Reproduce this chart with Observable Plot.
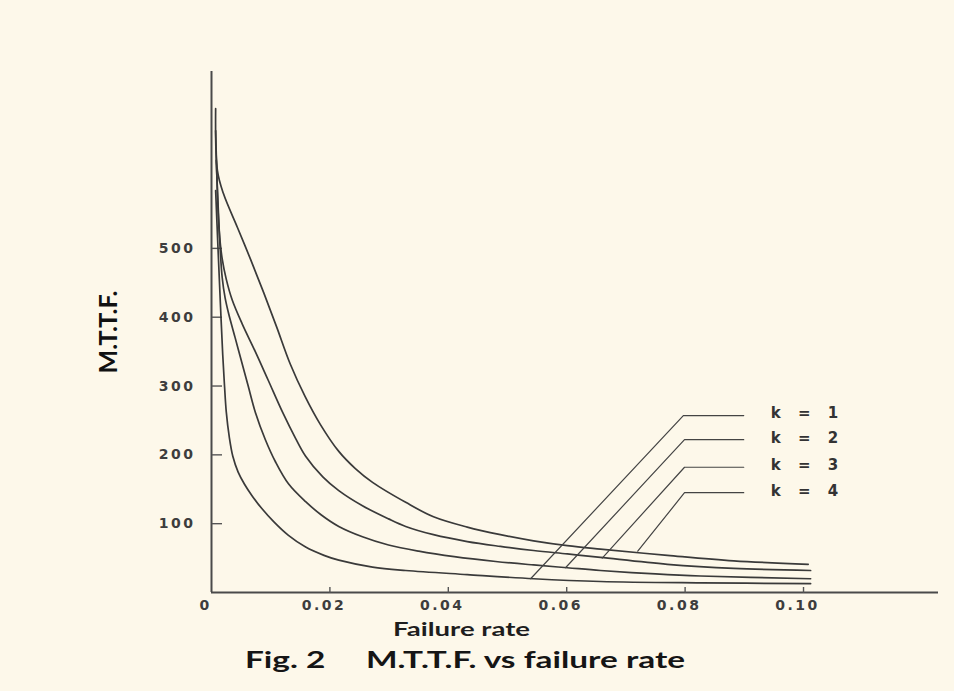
<!DOCTYPE html>
<html>
<head>
<meta charset="utf-8">
<script src="https://cdn.jsdelivr.net/npm/d3@7"></script>
<script src="https://cdn.jsdelivr.net/npm/@observablehq/plot@0.6"></script>
<style>
  html, body { margin: 0; padding: 0; background: #fdf8ea; }
  #wrap { position: relative; width: 954px; height: 691px; background: #fdf8ea; overflow: hidden; }
  #wrap svg { position: absolute; left: 0; top: 0; }
  #xlabel { position: absolute; left: 393px; top: 617px; font-family: Lato, "Open Sans", sans-serif; font-weight: bold; font-size: 19px; color: #1e1e1e; white-space: pre; transform-origin: 0 0; }
  #caption { position: absolute; left: 245px; top: 645px; font-family: Lato, "Open Sans", sans-serif; font-weight: bold; font-size: 23px; color: #151515; white-space: pre; transform-origin: 0 0; }
  [aria-label$="tick label"] text { letter-spacing: 2.5px; }
</style>
</head>
<body>
<div id="wrap">
  <div id="xlabel">Failure rate</div>
  <div id="caption">Fig. 2     M.T.T.F. vs failure rate</div>
</div>
<script>
// ---- data ----
const seriesNames = ["k = 1", "k = 2", "k = 3", "k = 4"];

const rateK1 = [0.0007, 0.0011, 0.0015, 0.0019, 0.0022, 0.0025, 0.0030, 0.0036, 0.0045, 0.0056, 0.0069, 0.0085, 0.0105, 0.0130, 0.0159, 0.0190, 0.0215, 0.0272, 0.0328, 0.0432, 0.0544, 0.0657, 0.0826, 0.1012];
const mttfK1 = [584, 500, 420, 345, 300, 262, 226, 198, 175, 157, 140, 122, 103, 83, 66, 54, 47, 37, 32, 26, 20, 16, 14, 13];

const rateK2 = [0.0008, 0.0011, 0.0014, 0.0018, 0.0023, 0.0029, 0.0040, 0.0051, 0.0062, 0.0074, 0.0091, 0.0108, 0.0130, 0.0159, 0.0185, 0.0215, 0.0255, 0.0299, 0.0350, 0.0410, 0.0480, 0.0544, 0.0601, 0.0657, 0.0750, 0.0826, 0.1012];
const mttfK2 = [628, 565, 510, 458, 428, 405, 370, 335, 300, 262, 222, 190, 158, 132, 113, 96, 81, 69, 60, 52, 45, 40, 36, 32, 27, 24, 20];

const rateK3 = [0.0007, 0.0010, 0.0013, 0.0018, 0.0025, 0.0035, 0.0052, 0.0074, 0.0096, 0.0120, 0.0142, 0.0159, 0.0188, 0.0215, 0.0255, 0.0299, 0.0328, 0.0375, 0.0432, 0.0488, 0.0544, 0.0601, 0.0657, 0.0770, 0.0882, 0.1012];
const mttfK3 = [671, 580, 525, 485, 455, 425, 390, 350, 308, 262, 224, 198, 168, 148, 126, 107, 96, 84, 74, 67, 61, 56, 51, 41, 35, 32];

const rateK4 = [0.0007, 0.0010, 0.0020, 0.0044, 0.0066, 0.0088, 0.0110, 0.0133, 0.0158, 0.0184, 0.0215, 0.0243, 0.0272, 0.0328, 0.0375, 0.0432, 0.0488, 0.0544, 0.0601, 0.0657, 0.0770, 0.0882, 0.1008];
const mttfK4 = [703, 613, 580, 530, 484, 436, 386, 332, 285, 244, 205, 180, 160, 131, 110, 95, 84, 75, 68, 63, 54, 46, 41];

// leader lines of the key: [point on curve, bend, end of horizontal]
const leaderRate = [[0.0539, 0.0797, 0.0899], [0.0598, 0.0799, 0.0899], [0.0660, 0.0799, 0.0899], [0.0720, 0.0799, 0.0899]];
const leaderMttf = [[20, 257, 257], [36, 222, 222], [50, 182, 182], [60, 145, 145]];

const yTicks = [100, 200, 300, 400, 500];
const xTicks = [0, 0.02, 0.04, 0.06, 0.08, 0.10];
const xTickLabels = ["0", "0.02", "0.04", "0.06", "0.08", "0.10"];
const yTitle = "M.T.T.F.";

// ---- build tables ----
const rates = [rateK1, rateK2, rateK3, rateK4];
const mttfs = [mttfK1, mttfK2, mttfK3, mttfK4];
const curveRows = seriesNames.flatMap((k, s) => rates[s].map((r, i) => ({k, rate: r, mttf: mttfs[s][i]})));
const leaderRows = seriesNames.flatMap((k, s) => leaderRate[s].map((r, i) => ({k, rate: r, mttf: leaderMttf[s][i]})));
const keyRows = seriesNames.map((k, s) => ({k, rate: leaderRate[s][2], mttf: leaderMttf[s][2]}));
const xLabelMap = new Map(xTicks.map((t, i) => [t, xTickLabels[i]]));

const ink = "#3a3a3a";
const tickFont = {fontFamily: "DejaVu Sans", fontWeight: "bold", fontSize: 14, fill: "#3d3d3d"};

const chart = Plot.plot({
  width: 954,
  height: 612,
  marginLeft: 211,
  marginRight: 16,
  marginTop: 71,
  marginBottom: 20,
  style: {background: "transparent", overflow: "visible"},
  x: {domain: [0, 0.1228]},
  y: {domain: [0, 757]},
  marks: [
    // axis lines
    Plot.ruleX([0], {stroke: "#4a4a4a", strokeWidth: 2}),
    Plot.ruleY([0], {stroke: "#4a4a4a", strokeWidth: 2}),
    // y ticks pointing inward and labels
    Plot.axisY({ticks: yTicks, anchor: "right", frameAnchor: "left", tickSize: 10, text: null, label: null, stroke: "#555", strokeWidth: 1.4}),
    Plot.axisY({ticks: yTicks, tickSize: 0, tickPadding: 16, label: null, ...tickFont}),
    // x ticks pointing upward and labels
    Plot.axisX({ticks: xTicks.slice(1), anchor: "top", frameAnchor: "bottom", tickSize: 6, text: null, label: null, stroke: "#555", strokeWidth: 1.4}),
    Plot.axisX({ticks: xTicks, tickSize: 0, tickPadding: 8, dx: -6, label: null, tickFormat: d => xLabelMap.get(d), ...tickFont}),
    // curves
    Plot.line(curveRows, {x: "rate", y: "mttf", z: "k", stroke: ink, strokeWidth: 1.7, curve: "catmull-rom"}),
    // key leaders
    Plot.line(leaderRows, {x: "rate", y: "mttf", z: "k", stroke: "#444", strokeWidth: 1.2}),
    Plot.text(keyRows, {x: "rate", y: "mttf", text: "k", textAnchor: "start", dx: 27, dy: -2, fontFamily: "DejaVu Sans", fontWeight: "bold", fontSize: 15, fill: "#333"}),
    // y title
    Plot.text([yTitle], {frameAnchor: "left", dx: -103, rotate: -90, textAnchor: "middle", fontFamily: "Lato, 'Open Sans', sans-serif", fontWeight: "bold", fontSize: 25, fill: "#111"})
  ]
});

const wrap = document.getElementById("wrap");
wrap.insertBefore(chart, wrap.firstChild);

// key labels use the wide typewriter spacing of the original
chart.querySelectorAll("text").forEach(t => {
  if (/^k = /.test(t.textContent)) t.style.letterSpacing = "6px";
});

// stretch caption texts horizontally like the scanned figure
function fitWidth(id, target) {
  const el = document.getElementById(id);
  const w = el.getBoundingClientRect().width;
  if (w > 0) el.style.transform = `scaleX(${target / w})`;
}
fitWidth("xlabel", 137);
fitWidth("caption", 440);
</script>
</body>
</html>
